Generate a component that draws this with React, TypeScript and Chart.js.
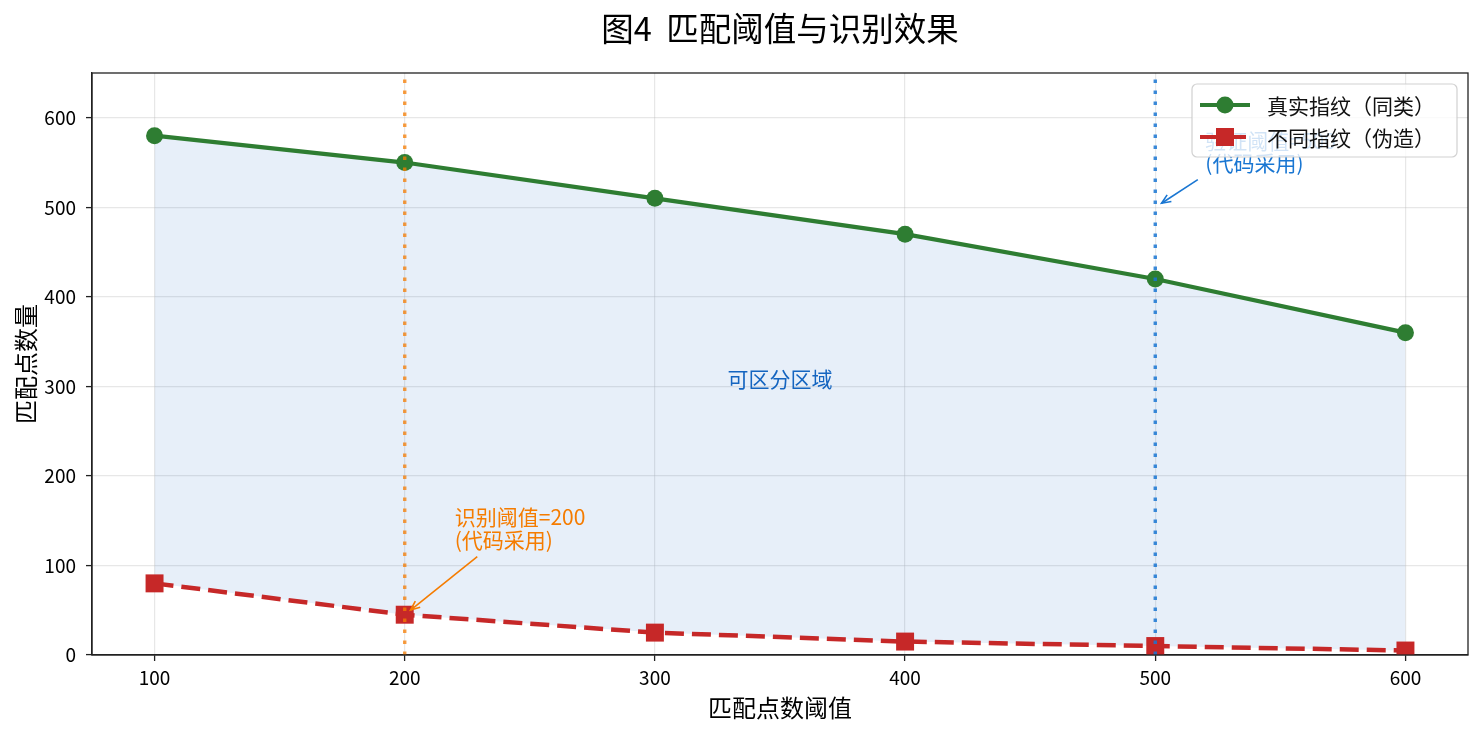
import React, { useEffect, useRef } from "react";
import { Chart, registerables } from "chart.js";

Chart.register(...registerables);

// ---- data ----
const thresholds = [100, 200, 300, 400, 500, 600];
const genuineMatches = [580, 550, 510, 470, 420, 360];
const forgedMatches = [80, 45, 25, 15, 10, 5];
const xTickValues = [100, 200, 300, 400, 500, 600];
const yTickValues = [0, 100, 200, 300, 400, 500, 600];
const seriesLabels = ["真实指纹（同类）", "不同指纹（伪造）"];
const chartTitle = "图4  匹配阈值与识别效果";
const xAxisTitle = "匹配点数阈值";
const yAxisTitle = "匹配点数量";
const referenceThresholds = [200, 500];
const regionLabel = "可区分区域";
const regionLabelAt = [350, 308];
const annotationLines = [
  ["识别阈值=200", "(代码采用)"],
  ["验证阈值=500", "(代码采用)"],
];
const annotationTextAt = [
  [220, 120],
  [520, 540],
];
const annotationArrowFrom = [
  [229, 110],
  [517, 531],
];
const annotationTarget = [
  [200, 45],
  [500, 500],
];

// ---- styles ----
const FONT = "'Noto Sans CJK SC', 'Noto Sans', sans-serif";
const GREEN = "#2e7d32";
const RED = "#c62828";
const refLineColors = ["rgba(245,124,0,0.75)", "rgba(25,118,210,0.85)"];
const annotationColors = ["#f57c00", "#1976d2"];

const overlayPlugin = {
  id: "overlay",
  afterDatasetsDraw(chart: any) {
    const { ctx, chartArea, scales } = chart;
    const x = scales.x;
    const y = scales.y;
    ctx.save();

    // reference vertical dotted lines
    referenceThresholds.forEach((v, i) => {
      const px = x.getPixelForValue(v);
      ctx.strokeStyle = refLineColors[i];
      ctx.lineWidth = 3.4;
      ctx.setLineDash([3.4, 7.6]);
      ctx.lineCap = "butt";
      ctx.beginPath();
      ctx.moveTo(px, chartArea.bottom);
      ctx.lineTo(px, chartArea.top);
      ctx.stroke();
    });
    ctx.setLineDash([]);

    // region label
    ctx.font = `21px ${FONT}`;
    ctx.fillStyle = "#1565c0";
    ctx.textAlign = "center";
    ctx.textBaseline = "middle";
    ctx.fillText(regionLabel, x.getPixelForValue(regionLabelAt[0]), y.getPixelForValue(regionLabelAt[1]));

    // annotations
    annotationLines.forEach((lines, i) => {
      const color = annotationColors[i];
      const tx = x.getPixelForValue(annotationTextAt[i][0]);
      const ty = y.getPixelForValue(annotationTextAt[i][1]);
      ctx.fillStyle = color;
      ctx.textAlign = "left";
      ctx.textBaseline = "alphabetic";
      ctx.font = `21px ${FONT}`;
      const lh = 22.5;
      lines.forEach((ln, k) => {
        ctx.fillText(ln, tx, ty - (lines.length - 1 - k) * lh);
      });
      // arrow
      const sx = x.getPixelForValue(annotationArrowFrom[i][0]);
      const sy = y.getPixelForValue(annotationArrowFrom[i][1]);
      const px = x.getPixelForValue(annotationTarget[i][0]);
      const py = y.getPixelForValue(annotationTarget[i][1]);
      const dx = px - sx;
      const dy = py - sy;
      const len = Math.hypot(dx, dy);
      const ux = dx / len;
      const uy = dy / len;
      const ex = px - ux * 7.5;
      const ey = py - uy * 7.5;
      ctx.strokeStyle = color;
      ctx.lineWidth = 1.6;
      ctx.beginPath();
      ctx.moveTo(sx, sy);
      ctx.lineTo(ex, ey);
      ctx.stroke();
      const head = 10;
      const ang = Math.atan2(uy, ux);
      ctx.beginPath();
      ctx.moveTo(ex - head * Math.cos(ang - 0.4), ey - head * Math.sin(ang - 0.4));
      ctx.lineTo(ex, ey);
      ctx.lineTo(ex - head * Math.cos(ang + 0.4), ey - head * Math.sin(ang + 0.4));
      ctx.stroke();
    });

    // full frame
    ctx.strokeStyle = "#222";
    ctx.lineWidth = 1.3;
    ctx.strokeRect(chartArea.left, chartArea.top, chartArea.right - chartArea.left, chartArea.bottom - chartArea.top);
    ctx.restore();
  },
  afterDraw(chart: any) {
    const { ctx, chartArea } = chart;
    ctx.save();
    const w = 265;
    const h = 73;
    const left = chartArea.right - 11 - w;
    const top = chartArea.top + 11;
    ctx.beginPath();
    ctx.roundRect(left, top, w, h, 5);
    ctx.fillStyle = "rgba(255,255,255,0.8)";
    ctx.fill();
    ctx.strokeStyle = "rgba(204,204,204,0.9)";
    ctx.lineWidth = 1.2;
    ctx.stroke();

    const rows = [top + 21, top + 53];
    const colors = [GREEN, RED];
    rows.forEach((ry, i) => {
      ctx.strokeStyle = colors[i];
      ctx.fillStyle = colors[i];
      ctx.lineWidth = 4.2;
      ctx.setLineDash(i === 1 ? [19, 8] : []);
      ctx.beginPath();
      ctx.moveTo(left + 8, ry);
      ctx.lineTo(left + 58, ry);
      ctx.stroke();
      ctx.setLineDash([]);
      const mx = left + 33;
      if (i === 0) {
        ctx.beginPath();
        ctx.arc(mx, ry, 8.5, 0, Math.PI * 2);
        ctx.fill();
      } else {
        ctx.fillRect(mx - 9, ry - 9, 18, 18);
      }
      ctx.fillStyle = "#111";
      ctx.font = `21px ${FONT}`;
      ctx.textAlign = "left";
      ctx.textBaseline = "middle";
      ctx.fillText(seriesLabels[i], left + 75, ry + 1);
    });
    ctx.restore();
  },
};

export default function App() {
  const ref = useRef<HTMLCanvasElement | null>(null);

  useEffect(() => {
    document.body.style.margin = "0";
    const canvas = ref.current;
    if (!canvas) return;
    const chart = new Chart(canvas, {
      type: "line",
      data: {
        datasets: [
          {
            label: seriesLabels[0],
            data: thresholds.map((t, i) => ({ x: t, y: genuineMatches[i] })),
            borderColor: GREEN,
            backgroundColor: "rgba(21,101,192,0.1)",
            borderWidth: 4.2,
            pointRadius: 8.5,
            pointHoverRadius: 8.5,
            pointBackgroundColor: GREEN,
            pointBorderWidth: 0,
            fill: "+1",
            tension: 0,
          },
          {
            label: seriesLabels[1],
            data: thresholds.map((t, i) => ({ x: t, y: forgedMatches[i] })),
            borderColor: RED,
            backgroundColor: RED,
            borderWidth: 4.5,
            borderDash: [19, 8],
            pointStyle: "rect",
            pointRadius: 12.7,
            pointHoverRadius: 12.7,
            pointBackgroundColor: RED,
            pointBorderWidth: 0,
            fill: false,
            tension: 0,
          },
        ],
      },
      options: {
        responsive: false,
        animation: false,
        devicePixelRatio: 1,
        layout: { padding: { left: 0, right: 16, top: 0, bottom: 0 } },
        plugins: {
          legend: { display: false },
          tooltip: { enabled: false },
          filler: { drawTime: "beforeDatasetsDraw" },
          title: {
            display: true,
            fullSize: false,
            text: chartTitle,
            color: "#000",
            font: { family: FONT, size: 32.5, weight: "normal" },
            padding: { top: 9, bottom: 25 },
          },
        },
        scales: {
          x: {
            type: "linear",
            min: 75,
            max: 625,
            afterBuildTicks: (s: any) => {
              s.ticks = xTickValues.map((v) => ({ value: v }));
            },
            afterFit: (s: any) => {
              s.height = 79;
            },
            ticks: {
              color: "#000",
              font: { family: FONT, size: 19 },
              padding: 5,
            },
            grid: {
              color: "rgba(176,176,176,0.3)",
              lineWidth: 1.2,
              tickColor: "#222",
              tickLength: 6,
              tickWidth: 1.3,
            },
            border: { display: true, color: "#222", width: 1.3 },
            title: {
              display: true,
              text: xAxisTitle,
              color: "#000",
              font: { family: FONT, size: 24 },
              padding: { top: 0, bottom: 12 },
            },
          },
          y: {
            type: "linear",
            min: 0,
            max: 650,
            afterBuildTicks: (s: any) => {
              s.ticks = yTickValues.map((v) => ({ value: v }));
            },
            afterFit: (s: any) => {
              s.width = 92;
            },
            ticks: {
              color: "#000",
              font: { family: FONT, size: 19 },
              padding: 10,
            },
            grid: {
              color: "rgba(176,176,176,0.3)",
              lineWidth: 1.2,
              tickColor: "#222",
              tickLength: 6,
              tickWidth: 1.3,
            },
            border: { display: true, color: "#222", width: 1.3 },
            title: {
              display: true,
              text: yAxisTitle,
              color: "#000",
              font: { family: FONT, size: 24 },
              padding: { top: 11, bottom: 0 },
            },
          },
        },
      },
      plugins: [overlayPlugin],
    } as any);
    return () => chart.destroy();
  }, []);

  return (
    <div style={{ position: "fixed", left: 0, top: 0, width: 1484, height: 734, background: "#fff" }}>
      <canvas ref={ref} width={1484} height={734} style={{ width: 1484, height: 734, display: "block" }} />
    </div>
  );
}
